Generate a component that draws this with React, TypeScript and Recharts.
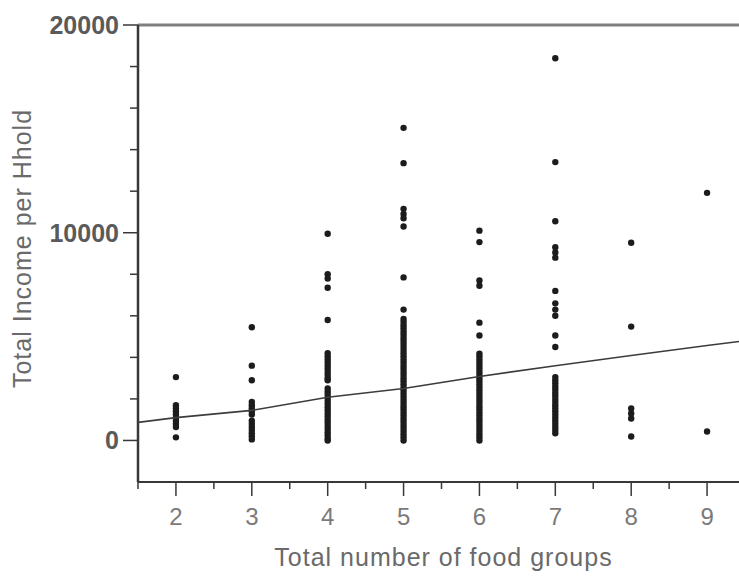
import { Scatter, ScatterChart, XAxis, YAxis, ReferenceLine } from "recharts";

// household income by number of food groups
const incomeAt2 = [3050, 1700, 1550, 1400, 1250, 1100, 950, 800, 650, 150];
const incomeAt3 = [5450, 3600, 2900, 1850, 1700, 1550, 1400, 1250, 950, 800, 650, 500, 350, 200, 50];
const incomeAt4 = [
  9950, 8000, 7800, 7350, 5800, 4200, 4050, 3900, 3750, 3600, 3450, 3300, 3150, 3000, 2900,
  2500, 2350, 2200, 2050, 1900, 1750, 1600, 1450, 1300, 1150, 1000, 850, 700, 550, 400, 250, 100, 0,
];
const incomeAt5 = [
  15050, 13350, 11150, 10900, 10700, 10300, 7850, 6300, 5850, 5700, 5550, 5400, 5250, 5100, 4950,
  4800, 4650, 4500, 4350, 4200, 4050, 3900, 3750, 3600, 3450, 3300, 3150, 3000, 2850, 2700, 2550,
  2400, 2250, 2100, 1950, 1800, 1650, 1500, 1350, 1200, 1050, 900, 750, 600, 450, 300, 150, 0,
];
const incomeAt6 = [
  10100, 9550, 7700, 7450, 5670, 5050, 4180, 4050, 3900, 3750, 3600, 3450, 3300, 3150, 3000, 2850,
  2700, 2550, 2400, 2250, 2100, 1950, 1800, 1650, 1500, 1350, 1200, 1050, 900, 750, 600, 450, 300,
  150, 0,
];
const incomeAt7 = [
  18400, 13400, 10550, 9300, 9050, 8800, 7200, 6600, 6300, 6000, 5050, 4500, 3050, 2900, 2750, 2600,
  2450, 2300, 2150, 2000, 1850, 1700, 1550, 1400, 1250, 1100, 950, 800, 650, 500, 350,
];
const incomeAt8 = [9520, 5480, 1540, 1300, 1060, 190];
const incomeAt9 = [11920, 430];

const foodGroups = [2, 3, 4, 5, 6, 7, 8, 9];
const incomeByGroup = [incomeAt2, incomeAt3, incomeAt4, incomeAt5, incomeAt6, incomeAt7, incomeAt8, incomeAt9];

// fitted line
const fitX = [1.5, 2, 3, 4, 5, 6, 7, 8, 9, 9.5];
const fitY = [870, 1100, 1450, 2080, 2500, 3080, 3600, 4090, 4570, 4800];

const xTicks = [1.5, 2, 2.5, 3, 3.5, 4, 4.5, 5, 5.5, 6, 6.5, 7, 7.5, 8, 8.5, 9, 9.5];
const yTicks = [0, 2000, 4000, 6000, 8000, 10000, 12000, 14000, 16000, 18000, 20000];
const yLabelled = [0, 10000, 20000];

const points = foodGroups.flatMap((g, i) => incomeByGroup[i].map((v) => ({ x: g, y: v })));
const fitPoints = fitX.map((x, i) => ({ x, y: fitY[i] }));

const AXIS = "#383838";
const FONT = "'Liberation Sans', Arial, sans-serif";

const YTick = (props: any) => {
  const { x, y, payload } = props;
  const major = yLabelled.includes(payload.value);
  return (
    <g>
      <line x1={x - (major ? 15 : 8)} x2={x} y1={y} y2={y} stroke={AXIS} strokeWidth={1.5} />
      {major && (
        <text
          x={x - 19}
          y={y}
          textAnchor="end"
          dominantBaseline="central"
          fontSize={25}
          fontWeight="bold"
          fill="#5a5a5a"
          fontFamily={FONT}
        >
          {payload.value}
        </text>
      )}
    </g>
  );
};

const XTick = (props: any) => {
  const { x, y, payload } = props;
  const major = Number.isInteger(payload.value);
  return (
    <g>
      <line x1={x} x2={x} y1={y} y2={y + (major ? 14 : 7)} stroke={AXIS} strokeWidth={1.5} />
      {major && (
        <text
          x={x}
          y={y + 43}
          textAnchor="middle"
          fontSize={24}
          fill="#7a7a7a"
          fontFamily={FONT}
        >
          {payload.value}
        </text>
      )}
    </g>
  );
};

const Dot = (props: any) => <circle cx={props.cx} cy={props.cy} r={3.2} fill="#1c1c1c" />;
const NoDot = () => <g />;

const YTitle = (props: any) => {
  const vb = props.viewBox;
  const cx = vb.x + 22;
  const cy = vb.y + vb.height / 2 - 5;
  return (
    <text
      x={cx}
      y={cy}
      transform={`rotate(-90 ${cx} ${cy})`}
      textAnchor="middle"
      dominantBaseline="central"
      fontSize={25}
      letterSpacing={1}
      fill="#6a6a6a"
      fontFamily={FONT}
    >
      Total Income per Hhold
    </text>
  );
};

const XTitle = (props: any) => {
  const vb = props.viewBox;
  return (
    <text
      x={vb.x + vb.width / 2 + 2}
      y={vb.y + 84}
      textAnchor="middle"
      fontSize={25}
      letterSpacing={1}
      fill="#6a6a6a"
      fontFamily={FONT}
    >
      Total number of food groups
    </text>
  );
};

export default function App() {
  return (
    <div
      style={{
        position: "absolute",
        left: 0,
        top: 0,
        width: 739,
        height: 577,
        overflow: "hidden",
        background: "#fff",
      }}
    >
      <ScatterChart width={750} height={577} margin={{ top: 25, right: 5, bottom: 0, left: 0 }}>
        <XAxis
          type="number"
          dataKey="x"
          domain={[1.5, 9.5]}
          ticks={xTicks}
          interval={0}
          height={95}
          tickSize={0}
          tickMargin={0}
          tickLine={false}
          tick={<XTick />}
          axisLine={{ stroke: AXIS, strokeWidth: 2 }}
          label={{ content: <XTitle /> }}
          allowDataOverflow
        />
        <YAxis
          type="number"
          dataKey="y"
          domain={[-2000, 20000]}
          ticks={yTicks}
          interval={0}
          width={138}
          tickSize={0}
          tickMargin={0}
          tickLine={false}
          tick={<YTick />}
          axisLine={{ stroke: AXIS, strokeWidth: 2.5 }}
          label={{ content: <YTitle /> }}
          allowDataOverflow
        />
        <ReferenceLine y={20000} stroke="#808080" strokeWidth={3} />
        <Scatter data={points} shape={<Dot />} isAnimationActive={false} />
        <Scatter
          data={fitPoints}
          shape={<NoDot />}
          line={{ stroke: "#3c3c3c", strokeWidth: 1.6 }}
          lineType="joint"
          isAnimationActive={false}
        />
      </ScatterChart>
    </div>
  );
}
